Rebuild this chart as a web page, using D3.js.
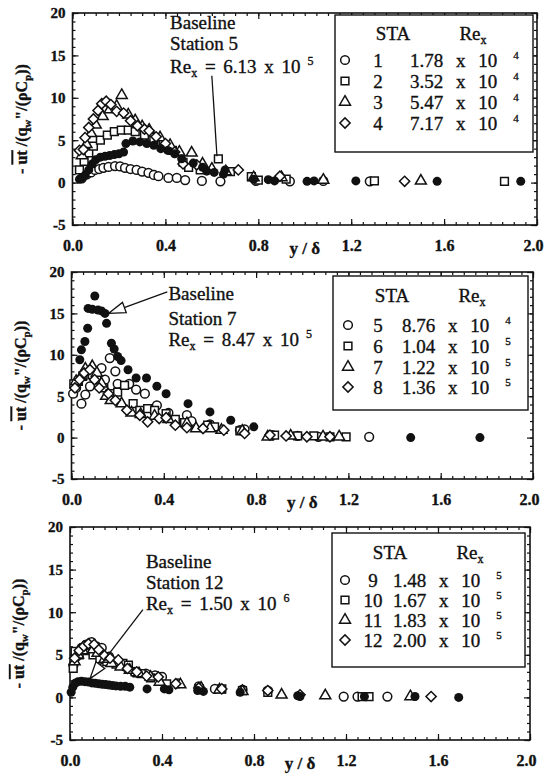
<!DOCTYPE html>
<html>
<head>
<meta charset="utf-8">
<script src="https://cdn.jsdelivr.net/npm/d3@7"></script>
<style>
  html, body { margin: 0; padding: 0; background: #fff; }
  svg { display: block; }
  text { font-family: "Liberation Serif", "Times New Roman", serif; fill: #111; }
  .heavy { stroke: #111; stroke-width: 0.35px; }
</style>
</head>
<body>
<svg id="chart" width="547" height="776"></svg>
<script>
// ---- axis ticks ----
const xTicks = [0, 0.4, 0.8, 1.2, 1.6, 2.0];
const yTicks = [-5, 0, 5, 10, 15, 20];
const xMinorTicks = d3.range(0, 2.0001, 0.05);
const yMinorTicks = d3.range(-5, 20.0001, 1);

// ---- legend contents ----
const stations1 = ["1", "2", "3", "4"];
const reMant1 = ["1.78", "3.52", "5.47", "7.17"];
const reExp1 = ["4", "4", "4", "4"];
const stations2 = ["5", "6", "7", "8"];
const reMant2 = ["8.76", "1.04", "1.22", "1.36"];
const reExp2 = ["4", "5", "5", "5"];
const stations3 = ["9", "10", "11", "12"];
const reMant3 = ["1.48", "1.67", "1.83", "2.00"];
const reExp3 = ["5", "5", "5", "5"];

// ---- baseline annotations: station, Re mantissa, exponent ----
const baseStation = ["Station 5", "Station 7", "Station 12"];
const baseReMant = ["6.13", "8.47", "1.50"];
const baseReExp = ["5", "5", "6"];

// ---- panel 1 : stations 1-4 (open) and baseline station 5 (filled) ----
const p1Sta1 = [[0.04,0.5],[0.061,0.95],[0.08,1.2],[0.097,1.5],[0.115,1.6],[0.133,1.75],[0.155,1.85],[0.183,1.95],[0.205,1.9],[0.226,1.75],[0.25,1.6],[0.276,1.5],[0.3,1.3],[0.327,1.15],[0.35,0.9],[0.37,0.75],[0.413,0.55],[0.449,0.55],[0.485,0.3],[0.557,0.2],[0.637,0.15],[0.79,0.2],[0.936,0.15],[1.08,0.2],[1.28,0.15]];
const p1Sta2 = [[0.03,1.5],[0.05,2.5],[0.07,3.5],[0.09,4.3],[0.12,5.0],[0.15,5.6],[0.18,6.0],[0.21,6.2],[0.24,6.2],[0.27,6.0],[0.31,5.6],[0.35,5.0],[0.39,4.5],[0.43,3.8],[0.476,2.4],[0.5,1.8],[0.55,1.5],[0.628,2.8],[0.68,1.3],[0.77,0.7],[0.8,0.3],[0.92,0.4],[1.3,0.2],[1.86,0.15]];
const p1Sta3 = [[0.04,3.2],[0.06,4.5],[0.08,5.8],[0.1,6.8],[0.13,7.8],[0.16,8.6],[0.19,9.0],[0.212,10.3],[0.24,8.0],[0.27,7.3],[0.3,6.6],[0.33,6.2],[0.377,5.3],[0.42,4.4],[0.46,3.6],[0.513,3.5],[0.56,2.2],[0.6,1.6],[0.66,1.3],[0.78,0.6],[0.9,0.6],[1.08,0.3],[1.5,0.2]];
const p1Sta4 = [[0.03,3.8],[0.047,3.9],[0.054,5.3],[0.07,6.5],[0.09,7.5],[0.11,8.5],[0.126,9.3],[0.145,9.6],[0.165,9.2],[0.19,8.4],[0.22,8.2],[0.25,7.3],[0.28,6.7],[0.31,6.3],[0.33,6.1],[0.36,5.4],[0.4,4.6],[0.44,3.6],[0.476,2.2],[0.535,2.1],[0.714,1.5],[0.893,0.75],[1.43,0.15]];
const p1Base = [[0.03,0.4],[0.04,0.55],[0.055,0.9],[0.07,1.5],[0.085,2.2],[0.1,2.7],[0.12,3.0],[0.14,3.1],[0.16,3.2],[0.18,3.3],[0.2,3.4],[0.22,3.6],[0.23,4.6],[0.26,4.9],[0.29,4.8],[0.32,4.6],[0.35,4.4],[0.38,4.0],[0.41,3.8],[0.44,3.4],[0.47,2.8],[0.52,2.3],[0.56,1.8],[0.578,1.35],[0.61,1.2],[0.65,1.0],[0.657,1.5],[0.78,0.4],[0.843,0.35],[0.87,0.2],[1.01,0.15],[1.04,0.2],[1.22,0.2],[1.57,0.15],[1.93,0.15]];

// ---- panel 2 : stations 5-8 (open) and baseline station 7 (filled) ----
const p2Sta5 = [[0.007,5.3],[0.02,6.0],[0.043,4.1],[0.06,5.2],[0.08,6.2],[0.1,7.3],[0.13,8.4],[0.145,7.0],[0.166,9.6],[0.19,8.0],[0.2,6.5],[0.25,6.5],[0.28,5.8],[0.318,5.3],[0.37,3.9],[0.42,3.0],[0.5,2.7],[0.52,2.0],[0.6,1.6],[0.73,0.9],[0.75,1.0],[0.87,0.3],[0.98,0.2],[1.07,0.1],[1.29,0.1]];
const p2Sta6 = [[0.01,6.5],[0.03,6.8],[0.05,7.5],[0.07,8.0],[0.09,7.6],[0.11,7.0],[0.14,6.0],[0.17,5.3],[0.2,5.5],[0.23,6.3],[0.267,4.1],[0.296,3.3],[0.33,3.5],[0.36,3.3],[0.41,2.9],[0.45,2.2],[0.49,1.8],[0.59,1.5],[0.62,1.3],[0.73,0.8],[0.88,0.3],[0.98,0.2],[1.05,0.2],[1.12,0.1],[1.19,0.1]];
const p2Sta7 = [[0.02,6.8],[0.04,7.3],[0.06,8.3],[0.09,8.6],[0.11,7.8],[0.13,6.5],[0.15,5.0],[0.17,4.5],[0.217,4.1],[0.26,3.0],[0.3,2.8],[0.36,2.6],[0.42,2.2],[0.5,1.7],[0.54,1.1],[0.6,1.1],[0.65,0.9],[0.74,0.8],[0.85,0.1],[0.95,0.2],[1.09,0.1],[1.16,0.1]];
const p2Sta8 = [[0.015,6.0],[0.035,7.0],[0.055,7.8],[0.08,8.2],[0.1,7.0],[0.12,6.0],[0.16,5.3],[0.19,4.5],[0.24,3.3],[0.296,2.7],[0.33,1.9],[0.38,2.3],[0.41,2.4],[0.45,1.5],[0.5,1.2],[0.57,1.1],[0.66,0.9],[0.75,0.5],[0.86,0.3],[0.93,0.2],[1.02,0.1],[1.12,0.1]];
const p2Base = [[0.036,9.4],[0.043,10.6],[0.058,11.6],[0.07,13.2],[0.072,15.6],[0.09,15.5],[0.101,17.1],[0.115,15.4],[0.13,15.3],[0.145,15.0],[0.152,13.8],[0.173,11.4],[0.185,10.7],[0.2,9.8],[0.215,9.3],[0.245,8.2],[0.28,7.2],[0.325,7.2],[0.37,6.2],[0.41,5.3],[0.505,4.1],[0.6,3.1],[0.69,2.1],[0.79,1.3],[1.47,0.0],[1.77,0.0]];

// ---- panel 3 : stations 9-12 (open) and baseline station 12 (filled) ----
const p3Sta9 = [[0.015,3.8],[0.03,4.8],[0.05,5.8],[0.07,6.2],[0.094,6.5],[0.115,6.0],[0.138,5.8],[0.17,4.8],[0.2,4.2],[0.24,3.6],[0.28,3.0],[0.33,2.8],[0.37,2.6],[0.4,2.4],[0.47,1.65],[0.56,1.3],[0.63,1.0],[0.75,0.9],[0.86,0.8],[1.19,0.1],[1.25,0.1],[1.38,0.1]];
const p3Sta10 = [[0.014,3.4],[0.022,5.4],[0.04,5.0],[0.06,5.8],[0.08,5.5],[0.1,5.0],[0.13,4.5],[0.16,4.2],[0.2,3.9],[0.23,4.0],[0.254,3.8],[0.283,3.0],[0.31,2.8],[0.35,2.3],[0.42,1.6],[0.56,1.0],[0.66,1.0],[0.75,0.8],[0.86,0.6],[1.27,0.1],[1.3,0.1]];
const p3Sta11 = [[0.02,4.2],[0.035,5.0],[0.055,5.5],[0.075,6.0],[0.1,5.6],[0.12,5.2],[0.15,4.5],[0.18,4.0],[0.22,3.6],[0.26,3.2],[0.3,2.8],[0.35,2.4],[0.39,1.8],[0.48,1.5],[0.57,1.1],[0.65,0.9],[0.75,0.7],[0.92,0.3],[1.11,0.2],[1.48,0.1]];
const p3Sta12 = [[0.02,4.6],[0.04,5.5],[0.06,6.0],[0.08,6.3],[0.105,6.2],[0.125,5.6],[0.15,4.9],[0.174,4.6],[0.21,4.4],[0.25,3.4],[0.29,3.0],[0.333,2.5],[0.384,2.4],[0.46,1.6],[0.56,1.1],[0.66,1.0],[0.86,0.8],[1.0,0.3],[1.57,0.1]];
const p3Base = [[0.005,0.6],[0.012,1.2],[0.022,1.65],[0.035,1.85],[0.05,1.9],[0.065,1.85],[0.08,1.8],[0.095,1.7],[0.11,1.65],[0.125,1.6],[0.14,1.55],[0.155,1.5],[0.17,1.45],[0.185,1.4],[0.2,1.35],[0.22,1.3],[0.24,1.3],[0.26,1.2],[0.335,1.0],[0.41,1.0],[0.43,0.9],[0.555,0.8],[0.58,0.7],[0.74,0.6],[0.99,0.2],[1.0,0.1],[1.28,0.1],[1.5,0.1],[1.69,0.0]];

// ---- layout of the three stacked panels ----
const panels = [
  { frame: { left: 72.5, right: 537, top: 13, bottom: 225 },
    series: [p1Sta1, p1Sta2, p1Sta3, p1Sta4], base: p1Base,
    stations: stations1, mant: reMant1, exp: reExp1,
    legend: { x0: 335, x1: 533, y0: 15, y1: 152, staX: 393, reX: 473, headY: 33, rowY: [60, 81, 102, 123], symX: 345, numX: 378, valX: 410 },
    note: { x: 0.42, y: [18.8, 16.4, 13.6] },
    pointer: { from: [0.6, 12.6], to: [0.622, 3.1], head: false } },
  { frame: { left: 71.5, right: 533, top: 272, bottom: 479 },
    series: [p2Sta5, p2Sta6, p2Sta7, p2Sta8], base: p2Base,
    stations: stations2, mant: reMant2, exp: reExp2,
    legend: { x0: 333, x1: 528, y0: 276, y1: 410, staX: 392, reX: 472, headY: 295, rowY: [325, 346, 367, 387], symX: 348, numX: 378, valX: 402 },
    note: { x: 0.42, y: [17.3, 14.3, 11.8] },
    pointer: { from: [0.415, 17.6], to: [0.16, 15.0], head: true } },
  { frame: { left: 70, right: 530, top: 527, bottom: 740 },
    series: [p3Sta9, p3Sta10, p3Sta11, p3Sta12], base: p3Base,
    stations: stations3, mant: reMant3, exp: reExp3,
    legend: { x0: 332, x1: 525, y0: 533, y1: 667, staX: 390, reX: 470, headY: 552, rowY: [580, 600, 620, 640], symX: 345, numX: 373, valX: 393 },
    note: { x: 0.33, y: [15.9, 13.4, 11.0] },
    pointer: { from: [0.317, 10.3], to: [0.087, 2.2], head: true } }
];

const svg = d3.select("#chart");
const shapes = ["circle", "square", "triangle", "diamond"];

function marker(kind) {
  if (kind === "circle") return d3.symbol(d3.symbolCircle, 60)();
  if (kind === "square") return d3.symbol(d3.symbolSquare, 60)();
  if (kind === "triangle") return d3.symbol(d3.symbolTriangle, 52)();
  return d3.symbol(d3.symbolSquare, 52)();
}
function markerTransform(kind, px, py) {
  return kind === "diamond" ? `translate(${px},${py}) rotate(45)` : `translate(${px},${py})`;
}

panels.forEach((p, i) => {
  const f = p.frame;
  const x = d3.scaleLinear().domain([0, 2]).range([f.left, f.right]);
  const y = d3.scaleLinear().domain([-5, 20]).range([f.bottom, f.top]);
  const g = svg.append("g");

  // axes: major ticks with labels on bottom/left, minor ticks on every side
  const styleAxis = sel => {
    sel.select(".domain").remove();
    sel.selectAll("line").attr("stroke", "#111").attr("stroke-width", 1.2);
  };
  g.append("g").attr("transform", `translate(0,${f.bottom})`)
    .call(d3.axisBottom(x).tickValues(xTicks).tickSize(-6).tickPadding(15).tickFormat(d3.format(".1f")))
    .call(styleAxis)
    .selectAll("text").attr("font-family", "Liberation Serif").attr("font-weight", "bold")
    .attr("font-size", 16).attr("fill", "#111").attr("class", "heavy")
    .attr("dx", d => (d === 2 ? -4 : 0));
  g.append("g").attr("transform", `translate(0,${f.bottom})`)
    .call(d3.axisBottom(x).tickValues(xMinorTicks).tickSize(-3).tickFormat(""))
    .call(styleAxis);
  g.append("g").attr("transform", `translate(0,${f.top})`)
    .call(d3.axisTop(x).tickValues(xTicks).tickSize(-6).tickFormat(""))
    .call(styleAxis);
  g.append("g").attr("transform", `translate(0,${f.top})`)
    .call(d3.axisTop(x).tickValues(xMinorTicks).tickSize(-3).tickFormat(""))
    .call(styleAxis);
  g.append("g").attr("transform", `translate(${f.left},0)`)
    .call(d3.axisLeft(y).tickValues(yTicks).tickSize(-6).tickPadding(7).tickFormat(d => String(d)))
    .call(styleAxis)
    .selectAll("text").attr("font-family", "Liberation Serif").attr("font-weight", "bold")
    .attr("font-size", 15).attr("fill", "#111").attr("class", "heavy");
  g.append("g").attr("transform", `translate(${f.left},0)`)
    .call(d3.axisLeft(y).tickValues(yMinorTicks).tickSize(-3).tickFormat(""))
    .call(styleAxis);
  g.append("g").attr("transform", `translate(${f.right},0)`)
    .call(d3.axisRight(y).tickValues(yTicks).tickSize(-6).tickFormat(""))
    .call(styleAxis);
  g.append("g").attr("transform", `translate(${f.right},0)`)
    .call(d3.axisRight(y).tickValues(yMinorTicks).tickSize(-3).tickFormat(""))
    .call(styleAxis);

  g.append("rect")
    .attr("x", f.left).attr("y", f.top)
    .attr("width", f.right - f.left).attr("height", f.bottom - f.top)
    .attr("fill", "none").attr("stroke", "#111").attr("stroke-width", 1.6);

  // x-axis title
  g.append("text")
    .attr("x", x(1.0)).attr("y", f.bottom + 29)
    .attr("text-anchor", "middle").attr("font-weight", "bold").attr("font-size", 17)
    .attr("class", "heavy")
    .text("y / δ");

  // y-axis title
  const cy = (f.top + f.bottom) / 2;
  const yt = g.append("text")
    .attr("transform", `translate(${f.left - 46},${cy}) rotate(-90)`)
    .attr("text-anchor", "middle").attr("font-weight", "bold").attr("font-size", 16)
    .attr("class", "heavy");
  yt.append("tspan").text("- ");
  yt.append("tspan").attr("text-decoration", "overline").text("ut");
  yt.append("tspan").text(" /(q");
  yt.append("tspan").attr("font-size", 11).attr("dy", 4).text("w");
  yt.append("tspan").attr("dy", -4).text("\"/(ρC");
  yt.append("tspan").attr("font-size", 11).attr("dy", 4).text("p");
  yt.append("tspan").attr("dy", -4).text("))");

  // data: open-symbol stations, then filled baseline on top
  p.series.forEach((s, k) => {
    const kind = shapes[k];
    g.append("g").selectAll("path").data(s).join("path")
      .attr("d", marker(kind))
      .attr("transform", d => markerTransform(kind, x(d[0]), y(d[1])))
      .attr("fill", "#fff").attr("stroke", "#111").attr("stroke-width", 1.5);
  });
  g.append("g").selectAll("circle").data(p.base).join("circle")
    .attr("cx", d => x(d[0])).attr("cy", d => y(d[1])).attr("r", 4.5)
    .attr("fill", "#111");

  // baseline annotation
  const nx = x(p.note.x);
  g.append("text").attr("x", nx).attr("y", y(p.note.y[0]) + 6).attr("font-size", 19).attr("class", "heavy").text("Baseline");
  g.append("text").attr("x", nx).attr("y", y(p.note.y[1]) + 6).attr("font-size", 19).attr("class", "heavy").text(baseStation[i]);
  const re = g.append("text").attr("x", nx).attr("y", y(p.note.y[2]) + 6).attr("font-size", 19)
    .attr("class", "heavy").style("word-spacing", "3px");
  re.append("tspan").text("Re");
  re.append("tspan").attr("font-size", 12).attr("dy", 4).text("x");
  re.append("tspan").attr("dy", -4).text(` = ${baseReMant[i]} x 10`);
  re.append("tspan").attr("font-size", 12).attr("dx", 7).attr("dy", -8).text(baseReExp[i]);

  const [fx, fy] = [x(p.pointer.from[0]), y(p.pointer.from[1])];
  const [tx, ty] = [x(p.pointer.to[0]), y(p.pointer.to[1])];
  g.append("line").attr("x1", fx).attr("y1", fy).attr("x2", tx).attr("y2", ty)
    .attr("stroke", "#111").attr("stroke-width", 1.3);
  if (p.pointer.head) {
    const ang = Math.atan2(fy - ty, fx - tx);
    const L = 17, W = 5.5;
    const bx = tx + L * Math.cos(ang), by = ty + L * Math.sin(ang);
    const nxv = -Math.sin(ang) * W, nyv = Math.cos(ang) * W;
    g.append("path")
      .attr("d", `M${tx},${ty}L${bx + nxv},${by + nyv}L${bx - nxv},${by - nyv}Z`)
      .attr("fill", "#fff").attr("stroke", "#111").attr("stroke-width", 1.3);
  }

  // legend box
  const L = p.legend;
  const lg = g.append("g");
  lg.append("rect").attr("x", L.x0).attr("y", L.y0).attr("width", L.x1 - L.x0).attr("height", L.y1 - L.y0)
    .attr("fill", "#fff").attr("stroke", "#111").attr("stroke-width", 1.4);
  lg.append("text").attr("x", L.staX).attr("y", L.headY + 7).attr("text-anchor", "middle")
    .attr("font-size", 19).attr("class", "heavy").text("STA");
  const rh = lg.append("text").attr("x", L.reX).attr("y", L.headY + 7).attr("text-anchor", "middle")
    .attr("font-size", 19).attr("class", "heavy");
  rh.append("tspan").text("Re");
  rh.append("tspan").attr("font-size", 12).attr("dy", 4).text("x");
  p.stations.forEach((st, k) => {
    const ry = L.rowY[k];
    lg.append("path").attr("d", marker(shapes[k]))
      .attr("transform", markerTransform(shapes[k], L.symX, ry))
      .attr("fill", "#fff").attr("stroke", "#111").attr("stroke-width", 1.5);
    lg.append("text").attr("x", L.numX).attr("y", ry + 7).attr("text-anchor", "middle")
      .attr("font-size", 19).attr("class", "heavy").text(st);
    const vt = lg.append("text").attr("x", L.valX).attr("y", ry + 7).attr("font-size", 19)
      .attr("class", "heavy").style("word-spacing", "8px");
    vt.append("tspan").text(`${p.mant[k]} x 10`);
    vt.append("tspan").attr("font-size", 11).attr("dx", 16).attr("dy", -8).text(p.exp[k]);
  });
});
</script>
</body>
</html>
